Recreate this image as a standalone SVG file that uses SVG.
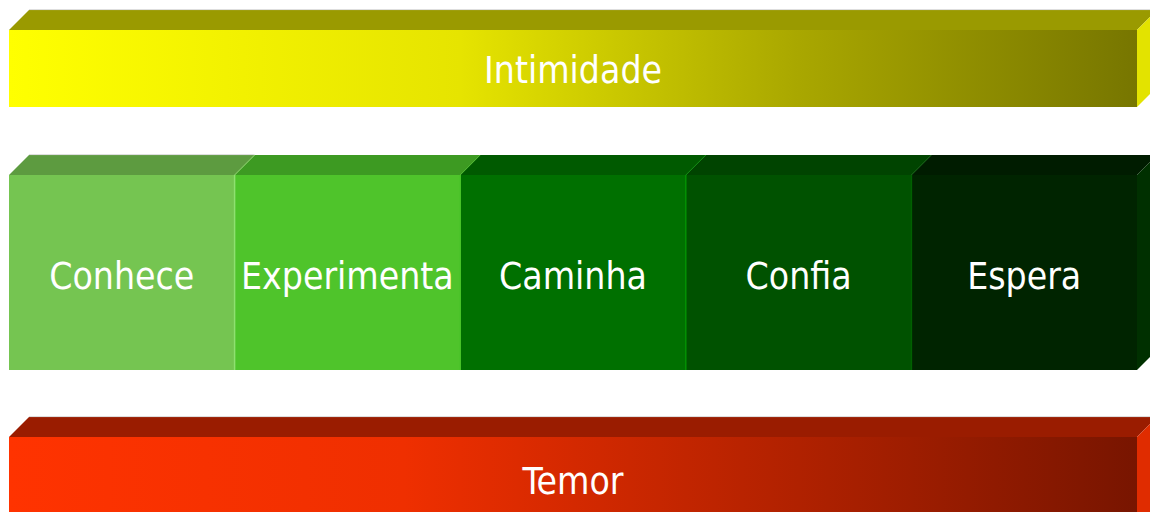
<svg xmlns="http://www.w3.org/2000/svg" width="1150" height="512" viewBox="0 0 1150 512">
<defs>
<linearGradient id="gY" x1="0" y1="0" x2="1" y2="0">
<stop offset="0" stop-color="#ffff00"/>
<stop offset="0.4" stop-color="#e6e400"/>
<stop offset="0.7" stop-color="#a9a700"/>
<stop offset="1" stop-color="#777600"/>
</linearGradient>
<linearGradient id="gR" x1="0" y1="0" x2="1" y2="0">
<stop offset="0" stop-color="#ff3300"/>
<stop offset="0.35" stop-color="#ef2f00"/>
<stop offset="0.7" stop-color="#b02100"/>
<stop offset="1" stop-color="#781500"/>
</linearGradient>
</defs>
<style>
text{font-family:"DejaVu Sans Condensed","DejaVu Sans",sans-serif;font-size:37px;fill:#ffffff;text-anchor:middle}
.edge{stroke:#d0d0d0;stroke-width:0.8}
.div{stroke-width:1.5}
.diag{stroke-width:0.8}
</style>
<rect width="1150" height="512" fill="#ffffff"/>

<g id="intimidade">
<polygon points="9,30 29,10 1157,10 1137,30" fill="#9a9a00"/>
<line class="edge" x1="29" y1="9.6" x2="1157" y2="9.6"/>
<polygon points="1137,30 1157,10 1157,87 1137,107" fill="#e3e300"/>
<rect x="9" y="30" width="1128" height="77" fill="url(#gY)"/>
<text x="573" y="83">Intimidade</text>
</g>

<g id="conhece">
<polygon points="9,175 29,155 254.6,155 234.6,175" fill="#5d9b40"/>
<line class="edge" x1="29" y1="154.6" x2="254.6" y2="154.6"/>
<rect x="9" y="175" width="225.6" height="195" fill="#75c551"/>
<text x="121.8" y="289">Conhece</text>
</g>

<g id="experimenta">
<polygon points="234.6,175 254.6,155 480.2,155 460.2,175" fill="#3d9a22"/>
<line class="diag" x1="234.6" y1="175" x2="254.6" y2="155" stroke="#8fdc6c"/>
<rect x="234.6" y="175" width="225.6" height="195" fill="#4fc42b"/>
<line class="div" x1="234.6" y1="175" x2="234.6" y2="370" stroke="#8fe070"/>
<text x="347.4" y="289">Experimenta</text>
</g>

<g id="caminha">
<polygon points="460.2,175 480.2,155 705.8,155 685.8,175" fill="#005a00"/>
<line class="diag" x1="460.2" y1="175" x2="480.2" y2="155" stroke="#4fc42b"/>
<rect x="460.2" y="175" width="225.6" height="195" fill="#007000"/>
<line class="div" x1="460.2" y1="175" x2="460.2" y2="370" stroke="#49c428"/>
<text x="573" y="289">Caminha</text>
</g>

<g id="confia">
<polygon points="685.8,175 705.8,155 931.4,155 911.4,175" fill="#004400"/>
<line class="diag" x1="685.8" y1="175" x2="705.8" y2="155" stroke="#009000"/>
<rect x="685.8" y="175" width="225.6" height="195" fill="#005200"/>
<line class="div" x1="685.8" y1="175" x2="685.8" y2="370" stroke="#009000"/>
<text x="798.6" y="289">Confia</text>
</g>

<g id="espera">
<polygon points="911.4,175 931.4,155 1157,155 1137,175" fill="#001c00"/>
<line class="diag" x1="911.4" y1="175" x2="931.4" y2="155" stroke="#006000"/>
<polygon points="1137,175 1157,155 1157,350 1137,370" fill="#003000"/>
<rect x="911.4" y="175" width="225.6" height="195" fill="#002400"/>
<line class="div" x1="911.4" y1="175" x2="911.4" y2="370" stroke="#006000"/>
<text x="1024.2" y="289">Espera</text>
</g>

<g id="temor">
<polygon points="9,437 29,417 1157,417 1137,437" fill="#9a1c00"/>
<line class="edge" x1="29" y1="416.6" x2="1157" y2="416.6"/>
<polygon points="1137,437 1157,417 1157,530 1137,550" fill="#e02c00"/>
<rect x="9" y="437" width="1128" height="100" fill="url(#gR)"/>
<text x="573" y="494">Temor</text>
</g>

<g id="connectors"/>
</svg>
